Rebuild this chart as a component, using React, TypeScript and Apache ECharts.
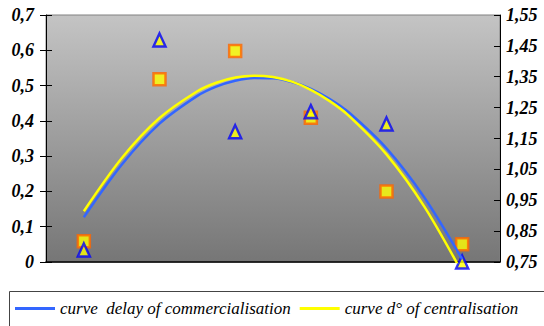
import React, { useEffect, useRef } from "react";
import * as echarts from "echarts";

// x positions of the six observations
const categories = [1, 2, 3, 4, 5, 6];
// d° of centralisation (left axis), square markers
const centralisation = [0.059, 0.518, 0.598, 0.409, 0.2, 0.05];
// delay of commercialisation (right axis), triangle markers
const commercialisation = [0.789, 1.469, 1.172, 1.237, 1.197, 0.75];

// trend curves
const curveX = [1, 1.5, 2, 2.5, 2.75, 3, 3.25, 3.5, 3.75, 4, 4.25, 4.5, 5, 5.5, 6];
const curveDelay = [0.895, 1.065, 1.198, 1.288, 1.318, 1.337, 1.346, 1.345, 1.333, 1.311, 1.278, 1.235, 1.118, 0.959, 0.759];
const curveCentral = [0.144, 0.294, 0.408, 0.484, 0.508, 0.523, 0.528, 0.524, 0.511, 0.488, 0.456, 0.415, 0.305, 0.157, -0.03];

const rightTicks = [0.75, 0.85, 0.95, 1.05, 1.15, 1.25, 1.35, 1.45, 1.55];

const FONT = "Liberation Serif";

export default function App() {
  const ref = useRef<HTMLDivElement>(null);
  useEffect(() => {
    if (!ref.current) return;
    const chart = echarts.init(ref.current, null, { renderer: "svg" });
    const labelStyle = {
      fontFamily: FONT,
      fontWeight: "bold" as const,
      fontStyle: "italic" as const,
      fontSize: 18,
      color: "#000",
    };
    chart.setOption({
      animation: false,
      backgroundColor: "#fff",
      grid: {
        left: 46,
        right: 44,
        top: 15,
        bottom: 64,
        show: true,
        borderColor: "#808080",
        borderWidth: 1,
        backgroundColor: {
          type: "linear",
          x: 0,
          y: 0,
          x2: 0,
          y2: 1,
          colorStops: [
            { offset: 0, color: "#c4c4c4" },
            { offset: 1, color: "#767676" },
          ],
        },
      },
      graphic: [
        {
          type: "rect",
          silent: true,
          shape: { x: 9.5, y: 291.5, width: 560, height: 60 },
          style: { fill: "none", stroke: "#444", lineWidth: 1 },
        },
      ],
      legend: {
        left: 15,
        top: 300,
        padding: 0,
        itemGap: 9,
        itemWidth: 40,
        itemHeight: 3,
        icon: "rect",
        data: ["curve  delay of commercialisation", "curve d° of centralisation"],
        textStyle: {
          fontFamily: FONT,
          fontStyle: "italic",
          fontSize: 17,
          color: "#000",
        },
      },
      xAxis: {
        type: "value",
        min: 0.5,
        max: 6.5,
        axisLine: { show: true, onZero: false, lineStyle: { color: "#000", width: 1.5 } },
        axisTick: { show: false },
        axisLabel: { show: false },
        splitLine: { show: false },
      },
      yAxis: [
        {
          type: "value",
          position: "left",
          min: 0,
          max: 0.7,
          interval: 0.1,
          axisLine: { show: true, lineStyle: { color: "#000" } },
          axisTick: { show: true, length: 6, lineStyle: { color: "#000" } },
          axisLabel: {
            ...labelStyle,
            margin: 12,
            formatter: (v: number) => (v === 0 ? "0" : v.toFixed(1).replace(".", ",")),
          },
          splitLine: { show: false },
        },
        {
          type: "value",
          position: "right",
          min: 0.75,
          max: 1.55,
          axisLine: { show: true, lineStyle: { color: "#000" } },
          axisTick: {
            show: true,
            inside: true,
            length: 6,
            customValues: rightTicks,
            lineStyle: { color: "#000" },
          },
          axisLabel: {
            ...labelStyle,
            margin: 6,
            customValues: rightTicks,
            formatter: (v: number) => v.toFixed(2).replace(".", ","),
          },
          splitLine: { show: false },
        },
        {
          type: "value",
          position: "left",
          min: 0,
          max: 0.7,
          interval: 0.1,
          axisLine: { show: false },
          axisTick: { show: true, inside: true, length: 6, lineStyle: { color: "#000" } },
          axisLabel: { show: false },
          splitLine: { show: false },
        },
      ],
      series: [
        {
          name: "curve  delay of commercialisation",
          type: "line",
          yAxisIndex: 1,
          smooth: 0.3,
          symbol: "none",
          clip: true,
          lineStyle: { color: "#3366FF", width: 2.5 },
          itemStyle: { color: "#3366FF" },
          data: curveX.map((x, i) => [x, curveDelay[i]]),
        },
        {
          name: "curve d° of centralisation",
          type: "line",
          yAxisIndex: 0,
          smooth: 0.3,
          symbol: "none",
          clip: true,
          lineStyle: { color: "#FFFF00", width: 2.5 },
          itemStyle: { color: "#FFFF00" },
          data: curveX.map((x, i) => [x, curveCentral[i]]),
        },
        {
          name: "d° of centralisation",
          type: "scatter",
          yAxisIndex: 0,
          clip: false,
          symbol: "rect",
          symbolSize: 12,
          itemStyle: { color: "#FFFF00", borderColor: "#FF6600", borderWidth: 2.5 },
          data: categories.map((x, i) => [x, centralisation[i]]),
        },
        {
          name: "delay of commercialisation",
          type: "scatter",
          yAxisIndex: 1,
          clip: false,
          symbol: "triangle",
          symbolSize: [12, 13],
          itemStyle: { color: "#FFFF00", borderColor: "#0000FF", borderWidth: 2.5 },
          data: categories.map((x, i) => [x, commercialisation[i]]),
        },
      ],
    });
    return () => chart.dispose();
  }, []);
  return (
    <div
      ref={ref}
      style={{ position: "fixed", left: 0, top: 0, width: 544, height: 326 }}
    />
  );
}
